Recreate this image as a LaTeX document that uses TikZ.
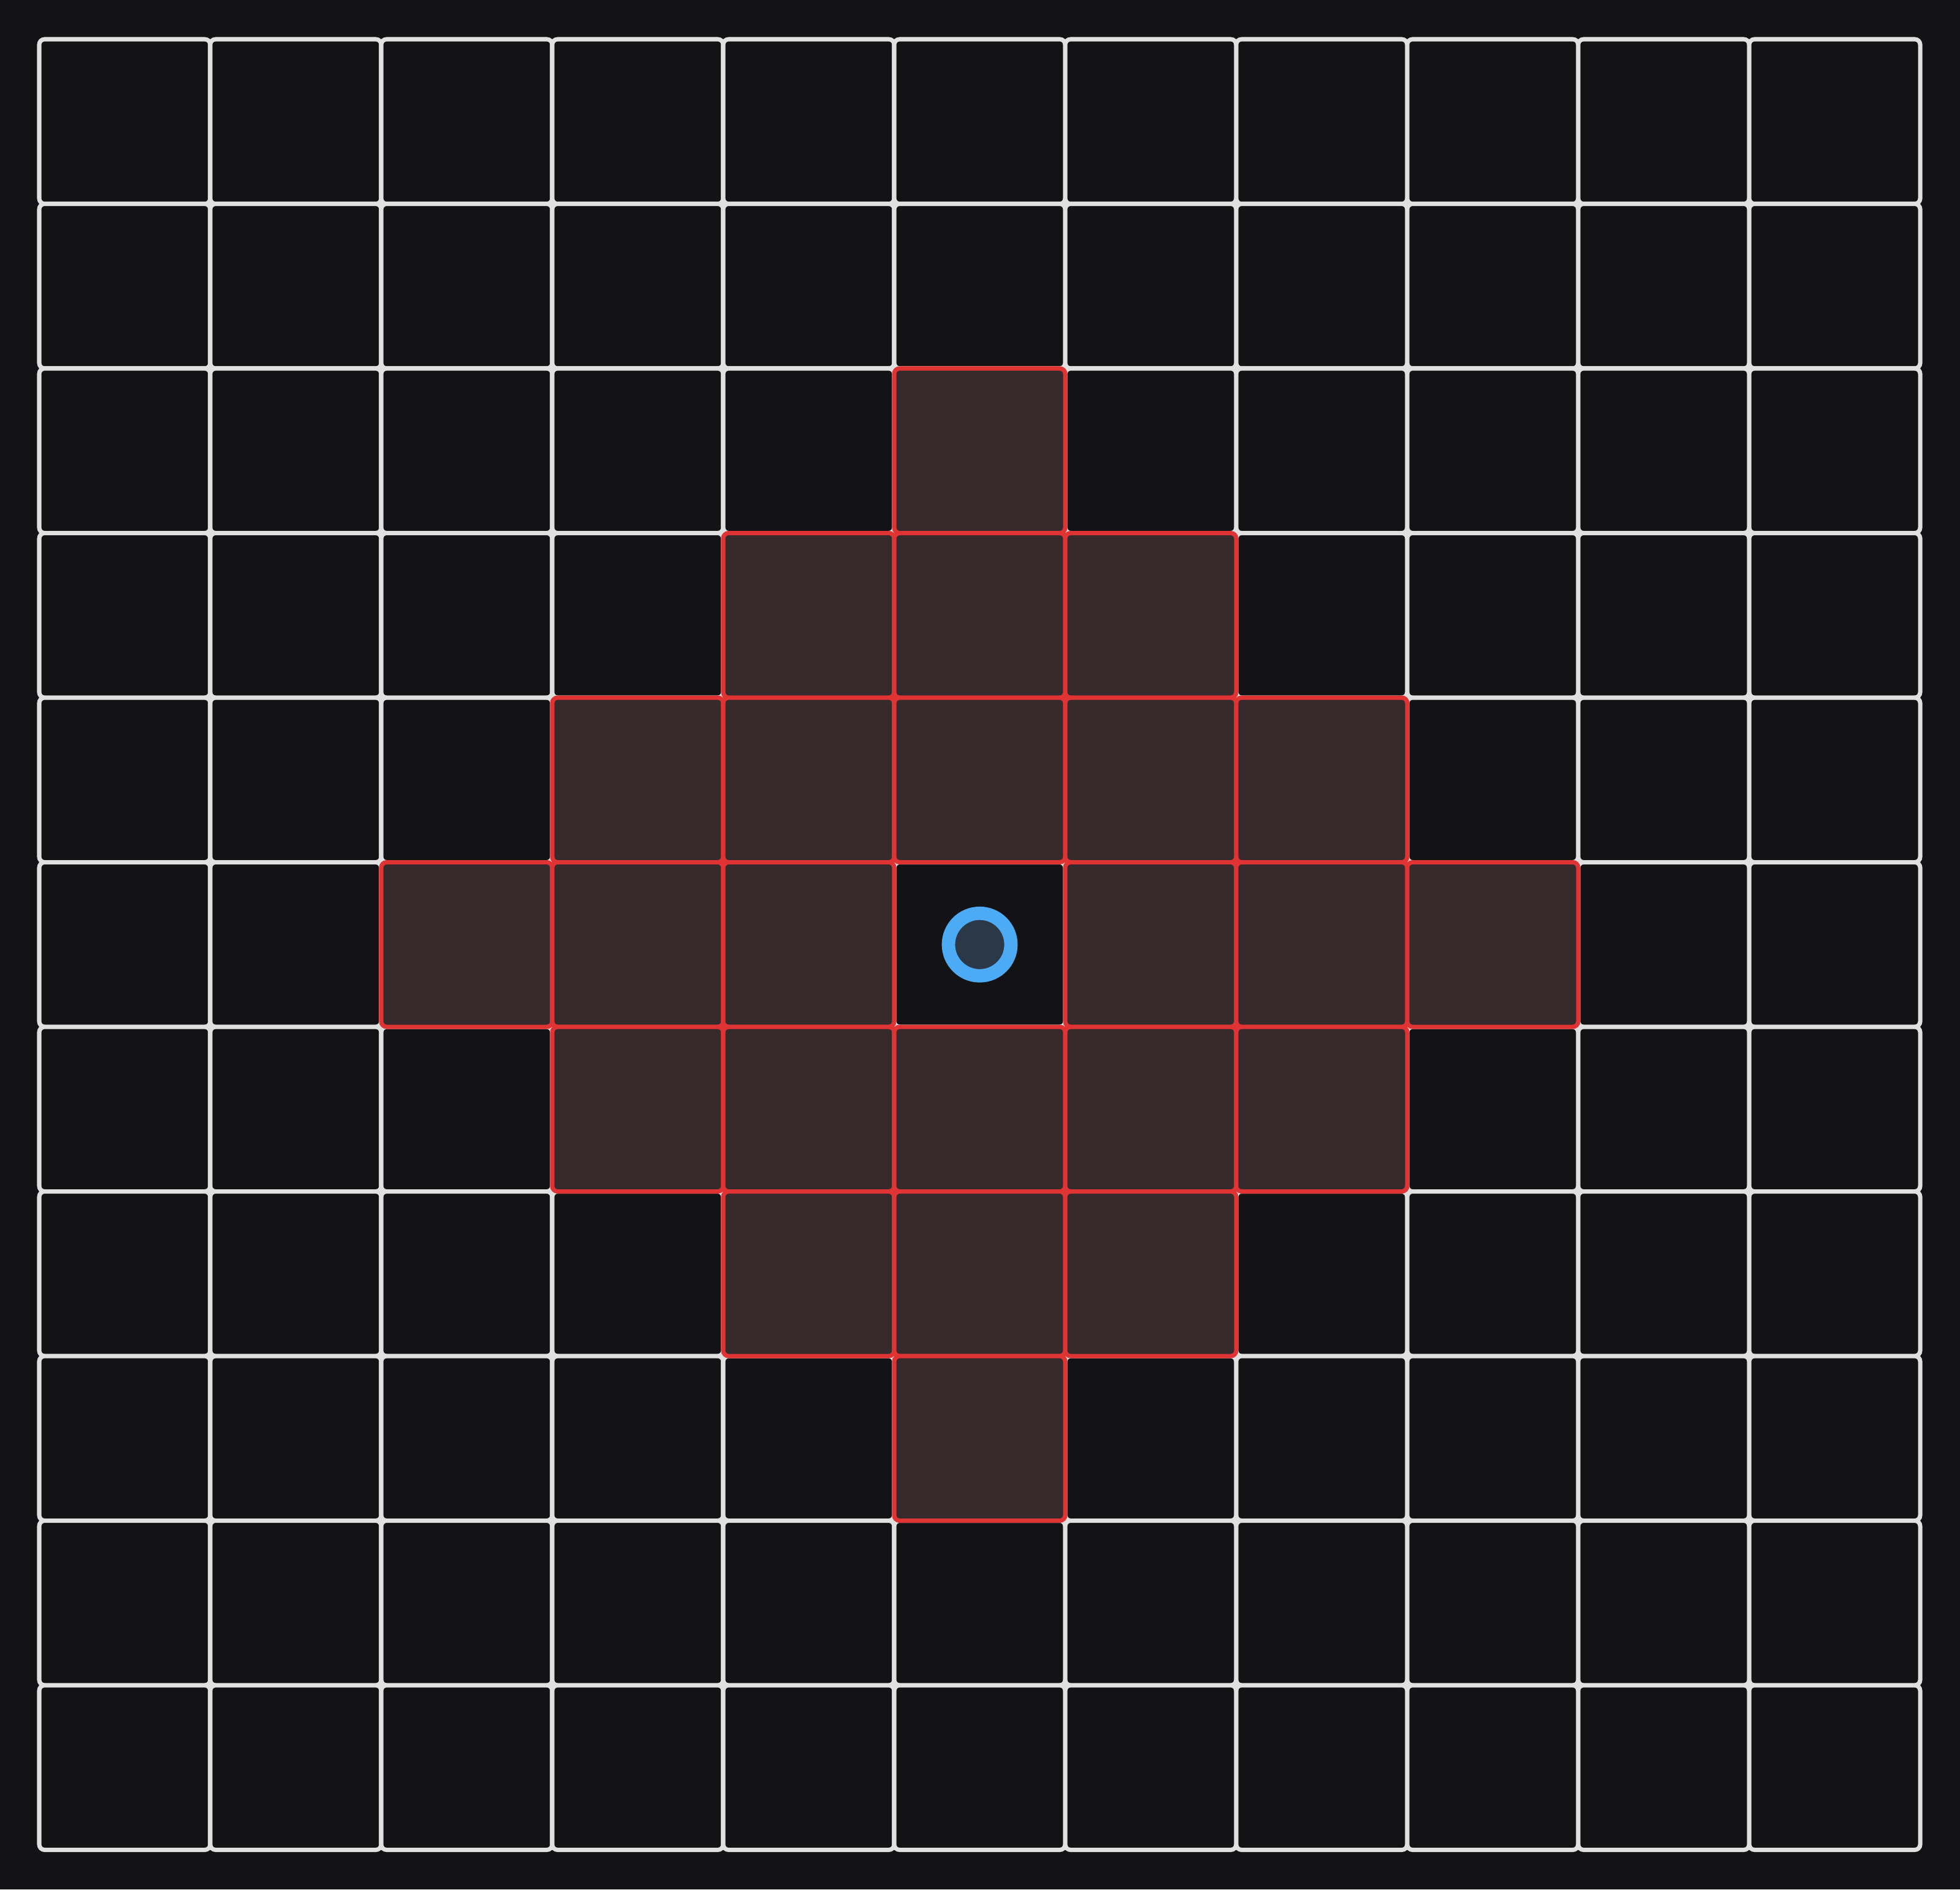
\documentclass[tikz,border=0pt]{standalone}
\definecolor{bg}{HTML}{131315}
\definecolor{gridline}{HTML}{E0E0E0}
\definecolor{hotfill}{HTML}{372A2D}
\definecolor{hotline}{HTML}{E03333}
\definecolor{ringblue}{HTML}{4DABF5}
\definecolor{ringfill}{HTML}{2B3847}
\tikzset{
  cellbox/.style={rectangle, draw=gridline, fill=bg, line width=2pt, rounded corners=2.5pt,
    minimum width=2.79cm, minimum height=2.685cm, inner sep=0pt},
  hotbox/.style={cellbox, draw=hotline, fill=hotfill},
  agent/.style={circle, draw=ringblue, fill=ringfill, line width=6.2pt, minimum size=1.02cm, inner sep=0pt}
}
\begin{document}
\begin{tikzpicture}
\fill[bg] (0,0) rectangle (31.98,-30.82);
\useasboundingbox (0,0) rectangle (31.98,-30.82);
\foreach \r in {0,...,10}{
  \foreach \c in {0,...,10}{
    \node[cellbox] (g\r-\c) at ({0.64+2.79*(\c+0.5)},{-0.64-2.685*(\r+0.5)}) {};
  }
}
\foreach \r in {0,...,10}{
  \foreach \c in {0,...,10}{
    \pgfmathtruncatemacro\d{abs(\r-5)+abs(\c-5)}
    \ifnum\d<4 \ifnum\d>0
      \node[hotbox] (h\r-\c) at (g\r-\c) {};
    \fi\fi
  }
}
\node[agent] (a) at (g5-5) {};
\end{tikzpicture}
\end{document}
